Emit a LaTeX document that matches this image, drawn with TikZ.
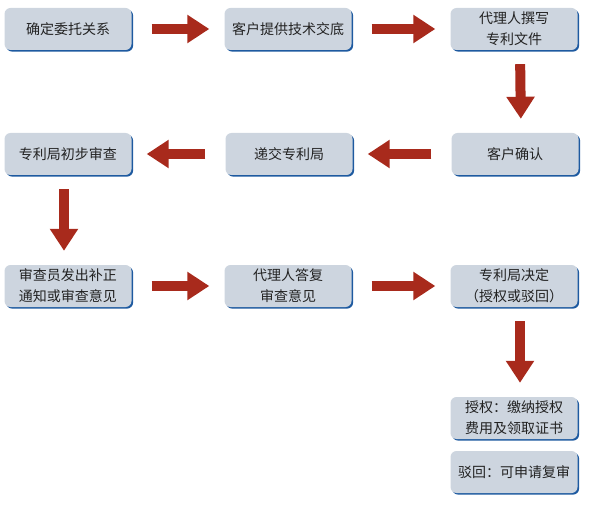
\documentclass[tikz,border=0pt]{standalone}
\usepackage{fontspec}
\setmainfont{Noto Sans CJK SC}
\usetikzlibrary{arrows.meta,shadows}
\definecolor{boxfill}{RGB}{205,213,223}
\definecolor{boxedge}{RGB}{30,90,160}
\definecolor{flowred}{RGB}{168,42,28}
\definecolor{textdark}{RGB}{34,34,34}
\tikzstyle{stepbox}=[rounded corners=6pt,fill=boxfill,minimum width=127pt,minimum height=42pt,inner sep=2pt,align=center,text=textdark,font=\fontsize{14pt}{21pt}\selectfont,drop shadow={shadow xshift=1.6pt,shadow yshift=-1.6pt,fill=boxedge,opacity=1}]
\tikzstyle{flow}=[draw=flowred,line width=10pt,-{Triangle[width=27pt,length=22pt]},shorten <=20pt,shorten >=15pt]
\tikzstyle{down}=[flow,shorten <=14pt,shorten >=14pt]

\begin{document}
\begin{tikzpicture}[x=1pt,y=-1pt]
\useasboundingbox (0,0) rectangle (589,505);
\node[stepbox] (entrust) at (68, 29) {确定委托关系};
\node[stepbox] (tech) at (288, 29) {客户提供技术交底};
\node[stepbox] (draft) at (514, 29) {代理人撰写\\专利文件};
\node[stepbox] (confirm) at (515, 154) {客户确认};
\node[stepbox] (submit) at (289, 154) {递交专利局};
\node[stepbox] (prelim) at (68, 154) {专利局初步审查};
\node[stepbox] (notice) at (68, 286) {审查员发出补正\\通知或审查意见};
\node[stepbox] (reply) at (288, 286) {代理人答复\\审查意见};
\node[stepbox] (decide) at (514, 286) {专利局决定\\（授权或驳回）};
\node[stepbox] (grant) at (514, 418) {授权：缴纳授权\\费用及领取证书};
\node[stepbox] (reject) at (514, 472) {驳回：可申请复审};

\draw[flow] (entrust) -- (tech);
\draw[flow] (tech) -- (draft);
\draw[down] ([xshift=6pt]draft.south) -- ([xshift=6pt]confirm.north);
\draw[flow] (confirm) -- (submit);
\draw[flow] (submit) -- (prelim);
\draw[down] ([xshift=-4pt]prelim.south) -- ([xshift=-4pt]notice.north);
\draw[flow] (notice) -- (reply);
\draw[flow] (reply) -- (decide);
\draw[down] ([xshift=6pt]decide.south) -- ([xshift=6pt]grant.north);
\end{tikzpicture}
\end{document}
